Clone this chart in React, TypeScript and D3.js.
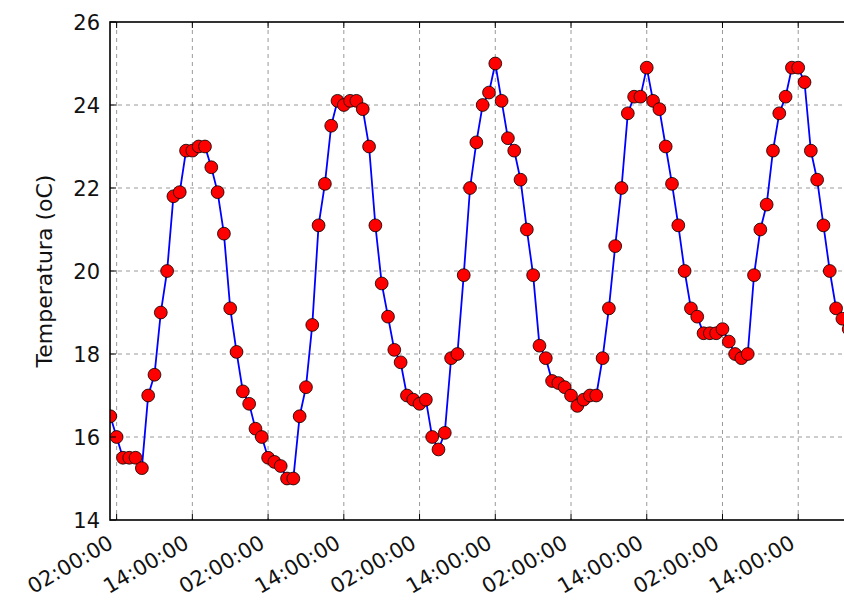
import React, { useRef, useEffect } from "react";
import { scaleTime, scaleLinear, line, select, utcFormat } from "d3";

// hourly readings, first one at 01:00
const startTime = Date.UTC(2015, 6, 1, 1, 0, 0);
const temperatures = [
  16.5, 16.0, 15.5, 15.5, 15.5, 15.25, 17.0, 17.5, 19.0, 20.0, 21.8, 21.9,
  22.9, 22.9, 23.0, 23.0, 22.5, 21.9, 20.9, 19.1, 18.05, 17.1, 16.8, 16.2,
  16.0, 15.5, 15.4, 15.3, 15.0, 15.0, 16.5, 17.2, 18.7, 21.1, 22.1, 23.5,
  24.1, 24.0, 24.1, 24.1, 23.9, 23.0, 21.1, 19.7, 18.9, 18.1, 17.8, 17.0,
  16.9, 16.8, 16.9, 16.0, 15.7, 16.1, 17.9, 18.0, 19.9, 22.0, 23.1, 24.0,
  24.3, 25.0, 24.1, 23.2, 22.9, 22.2, 21.0, 19.9, 18.2, 17.9, 17.35, 17.3,
  17.2, 17.0, 16.75, 16.9, 17.0, 17.0, 17.9, 19.1, 20.6, 22.0, 23.8, 24.2,
  24.2, 24.9, 24.1, 23.9, 23.0, 22.1, 21.1, 20.0, 19.1, 18.9, 18.5, 18.5,
  18.5, 18.6, 18.3, 18.0, 17.9, 18.0, 19.9, 21.0, 21.6, 22.9, 23.8, 24.2,
  24.9, 24.9, 24.55, 22.9, 22.2, 21.1, 20.0, 19.1, 18.85, 18.6,
];
const yTicks = [14, 16, 18, 20, 22, 24, 26];
const tickHours = [1, 13, 25, 37, 49, 61, 73, 85, 97, 109];

const HOUR = 3600 * 1000;

export default function App() {
  const svgRef = useRef<SVGSVGElement>(null);

  useEffect(() => {
    const svg = select(svgRef.current);
    svg.selectAll("*").remove();

    const height = 602;
    const margin = { top: 22, left: 110, bottom: 82 };
    const pxPerHour = 6.311;
    const plotRight = margin.left + pxPerHour * 118;
    const plotBottom = height - margin.bottom;

    const data = temperatures.map((v, i) => ({ t: new Date(startTime + i * HOUR), v }));

    const x = scaleTime()
      .domain([new Date(startTime - 0.05 * HOUR), new Date(startTime + 117.95 * HOUR)])
      .range([margin.left, plotRight]);
    const y = scaleLinear().domain([14, 26]).range([plotBottom, margin.top]);

    const fmt = utcFormat("%H:%M:%S");
    const ticks = tickHours.map((h) => new Date(startTime + h * HOUR));
    const font = "'DejaVu Sans', sans-serif";

    svg.append("defs")
      .append("clipPath")
      .attr("id", "plot-clip")
      .append("rect")
      .attr("x", margin.left)
      .attr("y", margin.top)
      .attr("width", plotRight - margin.left)
      .attr("height", plotBottom - margin.top);

    // grid
    const grid = svg.append("g").attr("stroke", "#9a9a9a").attr("stroke-width", 1).attr("stroke-dasharray", "4,4");
    grid.selectAll(".vgrid")
      .data(ticks)
      .join("line")
      .attr("x1", (d) => x(d))
      .attr("x2", (d) => x(d))
      .attr("y1", margin.top)
      .attr("y2", plotBottom);
    grid.selectAll(".hgrid")
      .data(yTicks.slice(1, -1))
      .join("line")
      .attr("x1", margin.left)
      .attr("x2", plotRight)
      .attr("y1", (d) => y(d))
      .attr("y2", (d) => y(d));

    const plot = svg.append("g").attr("clip-path", "url(#plot-clip)");

    const lineGenerator = line<{ t: Date; v: number }>()
      .x((d) => x(d.t))
      .y((d) => y(d.v));

    plot.append("path")
      .datum(data)
      .attr("d", lineGenerator)
      .attr("fill", "none")
      .attr("stroke", "#0000ff")
      .attr("stroke-width", 1.8);

    plot.selectAll("circle")
      .data(data)
      .join("circle")
      .attr("cx", (d) => x(d.t))
      .attr("cy", (d) => y(d.v))
      .attr("r", 6.4)
      .attr("fill", "#ff0000")
      .attr("stroke", "#000")
      .attr("stroke-width", 0.8);

    // ticks (pointing inward, all four sides)
    const tk = svg.append("g").attr("stroke", "#000").attr("stroke-width", 1);
    ticks.forEach((d) => {
      tk.append("line").attr("x1", x(d)).attr("x2", x(d)).attr("y1", plotBottom).attr("y2", plotBottom - 6);
      tk.append("line").attr("x1", x(d)).attr("x2", x(d)).attr("y1", margin.top).attr("y2", margin.top + 6);
    });
    yTicks.forEach((d) => {
      tk.append("line").attr("x1", margin.left).attr("x2", margin.left + 6).attr("y1", y(d)).attr("y2", y(d));
    });

    // spines
    svg.append("rect")
      .attr("x", margin.left)
      .attr("y", margin.top)
      .attr("width", plotRight - margin.left)
      .attr("height", plotBottom - margin.top)
      .attr("fill", "none")
      .attr("stroke", "#000")
      .attr("stroke-width", 1.6);

    // tick labels
    svg.selectAll(".ylab")
      .data(yTicks)
      .join("text")
      .attr("x", margin.left - 10)
      .attr("y", (d) => y(d))
      .attr("dy", "0.36em")
      .attr("text-anchor", "end")
      .attr("font-family", font)
      .attr("font-size", 21)
      .attr("fill", "#111")
      .text((d) => d);

    svg.selectAll(".xlab")
      .data(ticks)
      .join("text")
      .attr("transform", (d) => `translate(${x(d) - 2},${plotBottom + 27}) rotate(-30)`)
      .attr("text-anchor", "end")
      .attr("font-family", font)
      .attr("font-size", 21)
      .attr("fill", "#111")
      .text((d) => fmt(d));

    svg.append("text")
      .attr("transform", `translate(52,${(margin.top + plotBottom) / 2}) rotate(-90)`)
      .attr("text-anchor", "middle")
      .attr("font-family", font)
      .attr("font-size", 22)
      .attr("fill", "#111")
      .text("Temperatura (oC)");
  }, []);

  return (
    <svg
      ref={svgRef}
      width="844"
      height="602"
      style={{ position: "absolute", left: 0, top: 0, background: "#fff" }}
    />
  );
}
